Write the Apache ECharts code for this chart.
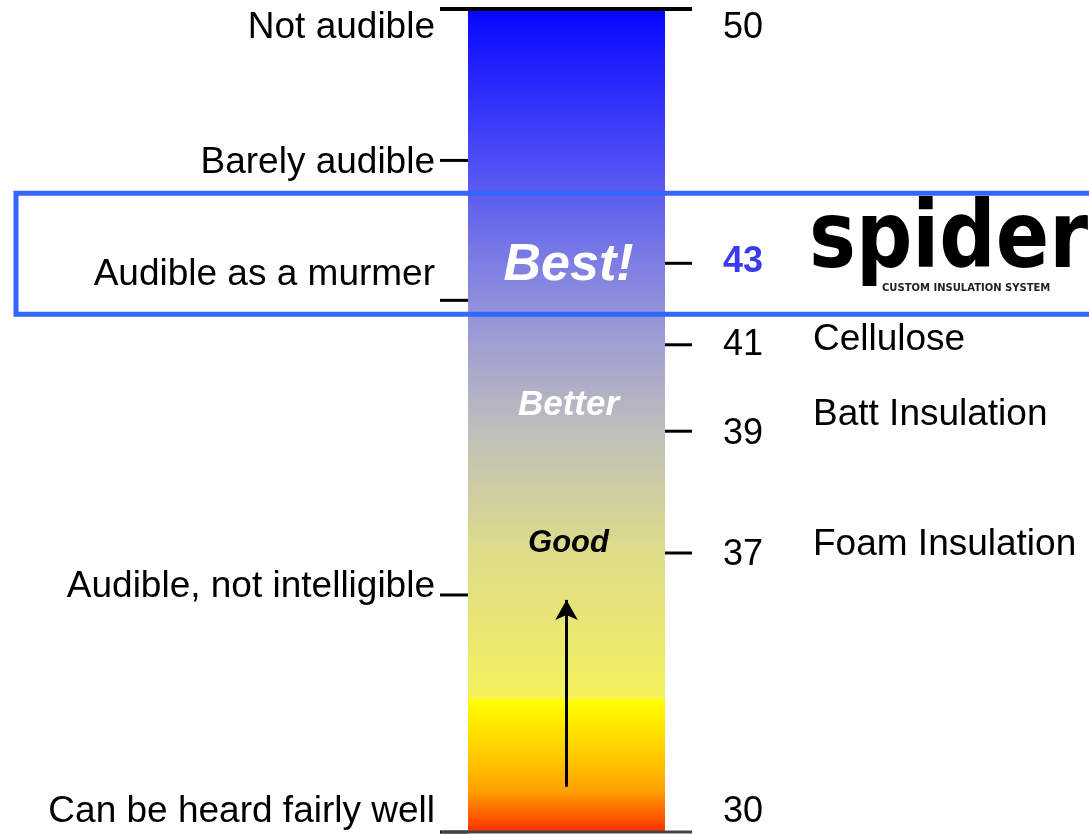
<!DOCTYPE html>
<html>
<head>
<meta charset="utf-8">
<title>Sound rating scale</title>
<script src="https://cdn.jsdelivr.net/npm/echarts@6/dist/echarts.min.js"></script>
<style>
  html, body { margin: 0; padding: 0; background: #fff; }
  #main { width: 1089px; height: 834px; }
</style>
</head>
<body>
<div id="main"></div>
<script>
// scale runs 0 (bottom of the bar) .. 100 (top of the bar); the drawing is not linear in the rating
var scaleMin = 0;
var scaleMax = 100;

// left side: how loud speech comes through
var hearingLabels = ['Not audible', 'Barely audible', 'Audible as a murmer', 'Audible, not intelligible', 'Can be heard fairly well'];
var hearingPos = [100, 81.6, 64.6, 28.8, 0];

// right side: ratings and what reaches them
var ratings = ['50', '43', '41', '39', '37', '30'];
var ratingPos = [100, 69.1, 59.2, 48.7, 33.9, 0];
var products = ['', 'spider', 'Cellulose', 'Batt Insulation', 'Foam Insulation', ''];

// words written on the bar
var grades = ['Best!', 'Better', 'Good'];
var gradePos = [68.8, 51.9, 35.1];

// highlighted band and the arrow
var bandRange = [62.9, 77.6];
var arrowRange = [5.5, 28.2];

var FONT = '"Liberation Sans", Arial, sans-serif';

// text offsets (px) from their tick, styling only
var hearingDy = [19, 2, -26, -8, -20];
var ratingDy = [19, -1, 0, 3, 2, -20];
var productDy = [0, -20, -5, -16, -8, 0];

var myChart = echarts.init(document.getElementById('main'));

var barGradient = new echarts.graphic.LinearGradient(0, 0, 0, 1, [
	{ offset: 0, color: '#0606ff' },
	{ offset: 0.18, color: '#4b4bf6' },
	{ offset: 0.31, color: '#7e7ee4' },
	{ offset: 0.41, color: '#a0a0d2' },
	{ offset: 0.51, color: '#bebebc' },
	{ offset: 0.66, color: '#dedc88' },
	{ offset: 0.78, color: '#ecea6c' },
	{ offset: 0.838, color: '#f5f25a' },
	{ offset: 0.839, color: '#ffff00' },
	{ offset: 0.91, color: '#ffc800' },
	{ offset: 0.95, color: '#ffa000' },
	{ offset: 1, color: '#ff3000' }
]);

var option = {
	animation: false,
	grid: { left: 468, width: 197, top: 9, bottom: 2 },
	xAxis: { type: 'category', data: ['scale'], show: false },
	yAxis: { type: 'value', min: scaleMin, max: scaleMax, show: false },
	series: [
		{
			// the colour bar
			type: 'bar',
			data: [scaleMax],
			barWidth: 197,
			z: 1,
			itemStyle: { color: barGradient },
			silent: true,
			markLine: {
				silent: true,
				symbol: ['none', 'arrow'],
				symbolSize: [17, 20],
				label: { show: false },
				lineStyle: { color: '#000', width: 3, type: 'solid' },
				data: [[{ coord: ['scale', arrowRange[0]] }, { coord: ['scale', arrowRange[1]] }]]
			}
		},
		{
			// left ticks + descriptions
			type: 'custom',
			silent: true,
			z: 10,
			data: hearingPos.map(function(p, i) { return [0, p, i]; }),
			renderItem: function(params, api) {
				var i = api.value(2);
				var y = api.coord([0, api.value(1)])[1];
				var x0 = params.coordSys.x;
				return {
					type: 'group',
					children: [
						{ type: 'line', shape: { x1: x0 - 28, y1: y, x2: x0, y2: y },
						  style: { stroke: '#000', lineWidth: (i === 0 ? 4 : 3) } },
						{ type: 'text', style: { text: hearingLabels[i], x: x0 - 33, y: y + hearingDy[i],
						  align: 'right', verticalAlign: 'middle', fill: '#000', font: '37px ' + FONT } }
					]
				};
			}
		},
		{
			// right ticks + ratings + products
			type: 'custom',
			silent: true,
			z: 10,
			data: ratingPos.map(function(p, i) { return [0, p, i]; }),
			renderItem: function(params, api) {
				var i = api.value(2);
				var y = api.coord([0, api.value(1)])[1];
				var x0 = params.coordSys.x;
				var x1 = x0 + params.coordSys.width;
				var best = ratings[i] === '43';
				var edge = (i === 0 || i === ratings.length - 1);
				var kids = [
					{ type: 'line', shape: { x1: edge ? x0 - 27 : x1, y1: y, x2: x1 + 27, y2: y },
					  style: { stroke: (i === ratings.length - 1 ? '#444' : '#000'), lineWidth: (i === 0 ? 4 : 3) } },
					{ type: 'text', style: { text: ratings[i], x: 723, y: y + ratingDy[i],
					  align: 'left', verticalAlign: 'middle', fill: best ? '#3a3af2' : '#000',
					  font: (best ? 'bold ' : '') + '36px ' + FONT } }
				];
				if (products[i] === 'spider') {
					// logo stand-in
					kids.push({ type: 'text', x: 809, y: y + productDy[i], scaleX: 1.11, scaleY: 1.3,
						style: { text: 'spider', x: 0, y: 0,
						align: 'left', verticalAlign: 'middle', fill: '#000',
						font: '900 71px "DejaVu Sans", sans-serif' } });
					kids.push({ type: 'text', style: { text: 'CUSTOM INSULATION SYSTEM', x: 882, y: y + 25,
						align: 'left', verticalAlign: 'middle', fill: '#222',
						font: 'bold 10px "DejaVu Sans", sans-serif' } });
				} else if (products[i]) {
					kids.push({ type: 'text', style: { text: products[i], x: 813, y: y + productDy[i],
						align: 'left', verticalAlign: 'middle', fill: '#000', font: '37px ' + FONT } });
				}
				return { type: 'group', children: kids };
			}
		},
		{
			// words on the bar
			type: 'custom',
			silent: true,
			z: 10,
			data: gradePos.map(function(p, i) { return [0, p, i]; }),
			renderItem: function(params, api) {
				var i = api.value(2);
				var pt = api.coord([0, api.value(1)]);
				var sizes = [52, 35, 31];
				var colors = ['#ffffff', '#ffffff', '#000000'];
				return { type: 'text', style: { text: grades[i], x: pt[0] + 2, y: pt[1],
					align: 'center', verticalAlign: 'middle', fill: colors[i],
					font: 'italic bold ' + sizes[i] + 'px ' + FONT } };
			}
		},
		{
			// highlighted band
			type: 'custom',
			silent: true,
			z: 10,
			data: [[0, bandRange[0], bandRange[1]]],
			renderItem: function(params, api) {
				var yTop = api.coord([0, api.value(2)])[1];
				var yBot = api.coord([0, api.value(1)])[1];
				return { type: 'rect', shape: { x: 16, y: yTop, width: 1080, height: yBot - yTop },
					style: { fill: 'none', stroke: '#3366ff', lineWidth: 5 } };
			}
		}
	]
};

myChart.setOption(option);
</script>
</body>
</html>
